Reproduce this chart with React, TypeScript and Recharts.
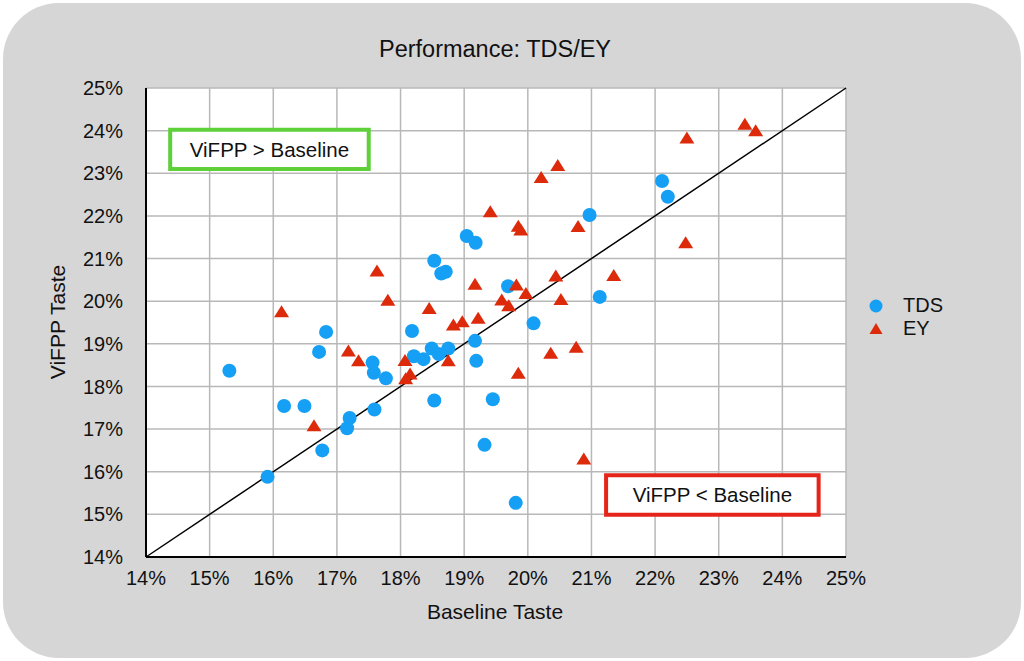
import React from "react";
import {
  ScatterChart,
  Scatter,
  XAxis,
  YAxis,
  CartesianGrid,
  ReferenceLine,
  ReferenceArea,
} from "recharts";

// ── Data (percent values) ──────────────────────────────────────────

const TDS_X = [
  15.31, 15.91, 16.17, 16.49, 16.72, 16.83, 16.77, 17.16, 17.2, 17.56, 17.58, 17.77,
  17.59, 18.18, 18.21, 18.36, 18.49, 18.6, 18.75, 18.53, 19.17, 19.19, 19.32, 19.45,
  19.04, 19.18, 18.53, 18.64, 18.71, 19.69, 20.09, 20.97, 21.13, 22.11, 22.2, 19.81,
];
const TDS_Y = [
  18.37, 15.88, 17.54, 17.54, 18.81, 19.28, 16.5, 17.02, 17.26, 18.56, 18.32, 18.19,
  17.46, 19.3, 18.71, 18.64, 18.89, 18.76, 18.89, 17.67, 19.07, 18.6, 16.63, 17.7,
  21.53, 21.37, 20.95, 20.65, 20.69, 20.35, 19.48, 22.02, 20.1, 22.82, 22.45, 15.27,
];

const EY_X = [
  16.13, 16.64, 17.18, 17.34, 17.63, 17.8, 18.07, 18.15, 18.08, 18.45, 18.75, 18.83,
  18.97, 19.17, 19.22, 19.41, 19.59, 19.7, 19.82, 19.85, 19.89, 19.97, 19.85, 20.21,
  20.47, 20.44, 20.52, 20.36, 20.76, 20.79, 20.88, 21.35, 22.5, 22.48, 23.41, 23.58,
];
const EY_Y = [
  19.75, 17.08, 18.83, 18.6, 20.71, 20.02, 18.61, 18.29, 18.18, 19.83, 18.6, 19.44,
  19.52, 20.4, 19.6, 22.1, 20.03, 19.89, 20.38, 21.76, 21.67, 20.18, 18.31, 22.9,
  23.18, 20.59, 20.04, 18.78, 18.92, 21.75, 16.3, 20.6, 23.83, 21.37, 24.15, 24.0,
];

const TICKS = [14, 15, 16, 17, 18, 19, 20, 21, 22, 23, 24, 25];

const tdsData = TDS_X.map((x, i) => ({ x, y: TDS_Y[i] }));
const eyData = EY_X.map((x, i) => ({ x, y: EY_Y[i] }));

// ── Styles ─────────────────────────────────────────────────────────

const FONT = '"Liberation Sans", Arial, Helvetica, sans-serif';
const BLUE = "#159ff5";
const RED = "#dc2a0b";
const pct = (v: number) => `${v}%`;

// eslint-disable-next-line @typescript-eslint/no-explicit-any
function Dot(props: any) {
  return <circle cx={props.cx} cy={props.cy} r={7} fill={BLUE} />;
}

// eslint-disable-next-line @typescript-eslint/no-explicit-any
function Tri(props: any) {
  const { cx, cy } = props;
  return (
    <polygon
      points={`${cx},${cy - 6.5} ${cx - 7.5},${cy + 5.5} ${cx + 7.5},${cy + 5.5}`}
      fill={RED}
    />
  );
}

export default function App() {
  return (
    <div style={{ position: "relative", width: 1024, height: 661, background: "#fff", fontFamily: FONT }}>
      <style>{`body{margin:0}`}</style>
      <div
        style={{
          position: "absolute", left: 3, top: 3, width: 1018, height: 655,
          background: "#d6d6d6", borderRadius: 56,
        }}
      />
      <div style={{ position: "absolute", left: 0, top: 36, width: 990, textAlign: "center", fontSize: 23.5, color: "#111" }}>
        Performance: TDS/EY
      </div>
      <div
        style={{
          position: "absolute", left: 58, top: 322, fontSize: 21, color: "#111", whiteSpace: "nowrap",
          transform: "translate(-50%, -50%) rotate(-90deg)",
        }}
      >
        ViFPP Taste
      </div>
      <div style={{ position: "absolute", left: 0, top: 600, width: 990, textAlign: "center", fontSize: 21, color: "#111" }}>
        Baseline Taste
      </div>

      <div style={{ position: "absolute", left: 0, top: 0 }}>
        <ScatterChart width={1024} height={661} margin={{ top: 88, right: 178, bottom: 64, left: 86 }}>
          <CartesianGrid fill="#fff" stroke="#b8b8b8" strokeWidth={1.5} />
          <XAxis
            type="number" dataKey="x" domain={[14, 25]} ticks={TICKS} tickFormatter={pct}
            height={40} tickLine={false} tickSize={0} tickMargin={14}
            axisLine={{ stroke: "#000", strokeWidth: 2 }}
            tick={{ fontSize: 20, fill: "#111", fontFamily: FONT }} allowDataOverflow
          />
          <YAxis
            type="number" dataKey="y" domain={[14, 25]} ticks={TICKS} tickFormatter={pct}
            width={60} tickLine={false} tickSize={0} tickMargin={23}
            axisLine={{ stroke: "#000", strokeWidth: 2 }}
            tick={{ fontSize: 20, fill: "#111", fontFamily: FONT }} allowDataOverflow
          />
          <ReferenceArea
            x1={14.38} x2={17.5} y1={23.1} y2={24.02}
            fill="#fff" fillOpacity={1} stroke="#5ed13a" strokeWidth={4}
            label={{ value: "ViFPP > Baseline", position: "center", fontSize: 20.5, fill: "#111", fontFamily: FONT }}
          />
          <ReferenceArea
            x1={21.23} x2={24.57} y1={14.99} y2={15.92}
            fill="#fff" fillOpacity={1} stroke="#e5241a" strokeWidth={4}
            label={{ value: "ViFPP < Baseline", position: "center", fontSize: 20.5, fill: "#111", fontFamily: FONT }}
          />
          <Scatter name="TDS" data={tdsData} shape={Dot} isAnimationActive={false} />
          <Scatter name="EY" data={eyData} shape={Tri} isAnimationActive={false} />
          <ReferenceLine segment={[{ x: 14, y: 14 }, { x: 25, y: 25 }]} stroke="#000" strokeWidth={1.5} />
        </ScatterChart>
      </div>

      <div style={{ position: "absolute", left: 866, top: 294, fontSize: 20, color: "#111", lineHeight: "23px" }}>
        {[
          { name: "TDS", color: BLUE, shape: "circle" },
          { name: "EY", color: RED, shape: "triangle" },
        ].map((s) => (
          <div key={s.name} style={{ display: "flex", alignItems: "center" }}>
            <svg width={20} height={20} style={{ marginRight: 17 }}>
              {s.shape === "circle" ? (
                <circle cx={10} cy={10} r={6.5} fill={s.color} />
              ) : (
                <polygon points="10,4 3.5,15 16.5,15" fill={s.color} />
              )}
            </svg>
            <span>{s.name}</span>
          </div>
        ))}
      </div>
    </div>
  );
}
